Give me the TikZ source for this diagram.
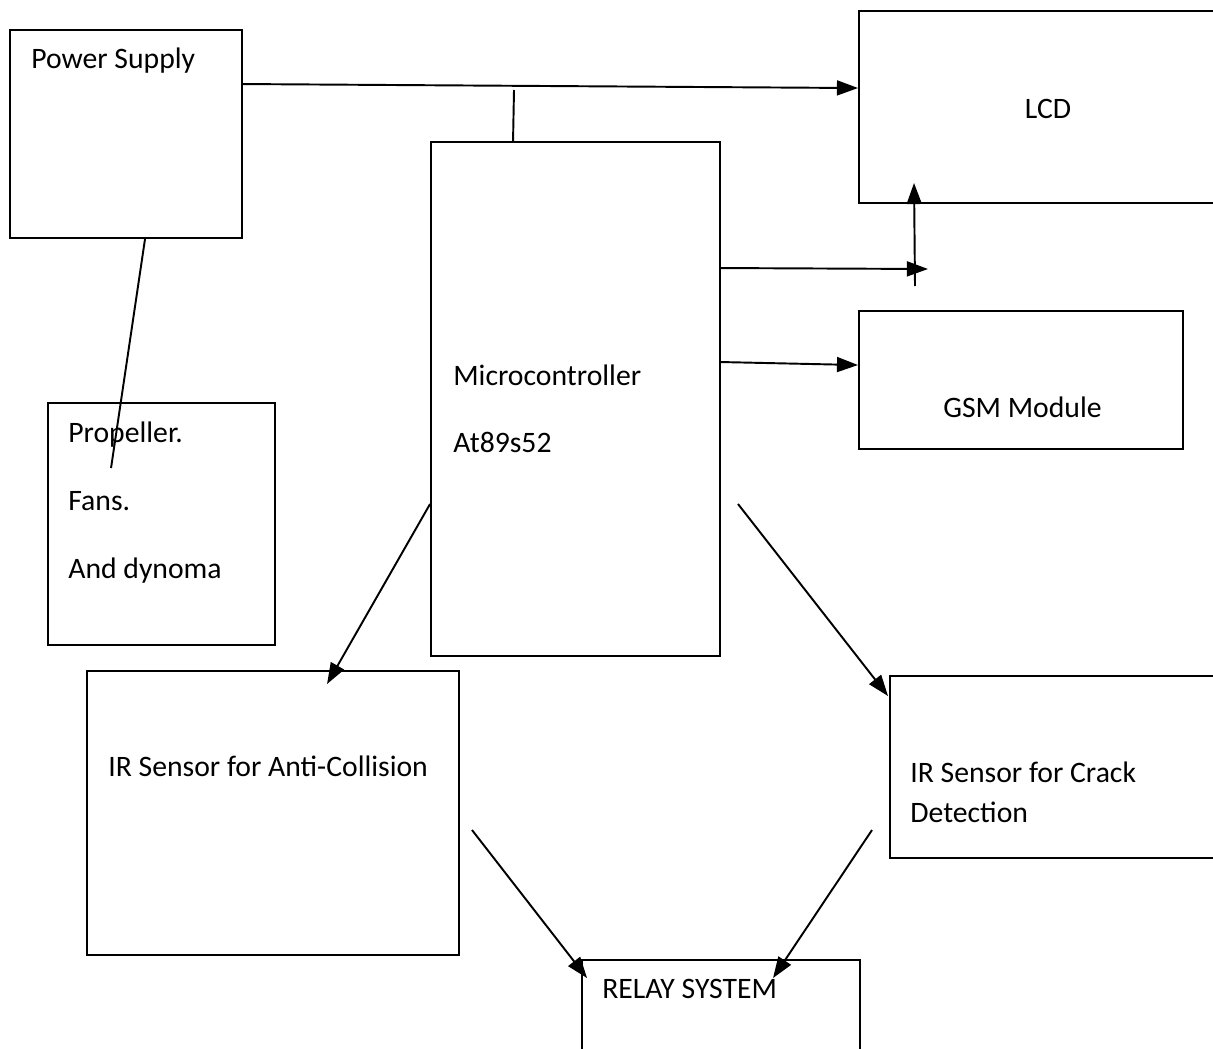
\documentclass[tikz,border=0pt]{standalone}
\usepackage{fontspec}
\setmainfont{Carlito}
\usetikzlibrary{arrows.meta,calc,fit}
\begin{document}
\begin{tikzpicture}[x=0.02cm,y=-0.02cm,
  box/.style={draw=black,line width=1.1pt,inner sep=0pt},
  lbl/.style={anchor=base west,inner sep=0pt,font=\fontsize{16.9pt}{20pt}\selectfont},
  wire/.style={draw=black,line width=1.1pt},
  arr/.style={wire,-{Triangle[length=12pt,width=8.5pt]}}]
\clip (0,0) rectangle (1213,1048);
\fill[white] (0,0) rectangle (1213,1048);
% boxes
\node[box,fit={(10,30)(242,238)}] (ps) {};
\node[box,fit={(859,11)(1240,203)}] (lcd) {};
\node[box,fit={(431,142)(720,656)}] (mc) {};
\node[box,fit={(859,311)(1183,449)}] (gsm) {};
\node[box,fit={(48,403)(275,645)}] (prop) {};
\node[box,fit={(87,671)(459,955)}] (ira) {};
\node[box,fit={(890,676)(1240,858)}] (irc) {};
\node[box,fit={(582,960)(860,1070)}] (relay) {};
% texts
\node[lbl] (tps) at (31,68) {Power Supply};
\node[lbl,anchor=base] (tlcd) at (1048,118) {LCD};
\node[lbl] (tgsm) at (943,417) {GSM Module};
\node[lbl] (tmc1) at (453,385) {Microcontroller};
\node[lbl] (tmc2) at (453,452) {At89s52};
\node[lbl] (tp1) at (68,442) {Propeller.};
\node[lbl] (tp2) at (68,510) {Fans.};
\node[lbl] (tp3) at (68,578) {And dynoma};
\node[lbl] (tira) at (108,776) {IR Sensor for Anti-Collision};
\node[lbl] (tirc1) at (910,782) {IR Sensor for Crack};
\node[lbl] (tirc2) at (910,822) {Detection};
\node[lbl] (trel) at (602,998) {RELAY SYSTEM};
% free-end coordinates
\coordinate (c1) at (928,269);
\coordinate (c2) at (915,286);
\coordinate (c3) at (472,830);
\coordinate (c4) at (872,830);
\coordinate (c5) at (738,504);
\coordinate (c6) at (514,90);
% connectors
\draw[arr] ($(ps.north east)+(0,55)$) -- ($(lcd.north west)+(0,78)$);
\draw[wire] (c6) -- ($(mc.north west)+(83,0)$);
\draw[arr] ($(mc.north east)+(0,127)$) -- (c1);
\draw[arr] (c2) -- ($(lcd.south west)+(56,-21)$);
\draw[arr] ($(mc.north east)+(0,221)$) -- ($(gsm.north west)+(0,55)$);
\draw[wire] ($(ps.south west)+(136,0)$) -- ($(prop.north west)+(64,66)$);
\draw[arr] ($(mc.north west)+(0,363)$) -- ($(ira.north west)+(241,14)$);
\draw[arr] (c5) -- ($(irc.north west)+(-1,21)$);
\draw[arr] (c3) -- ($(relay.north west)+(6,19)$);
\draw[arr] (c4) -- ($(relay.north west)+(192,19)$);
\end{tikzpicture}
\end{document}
